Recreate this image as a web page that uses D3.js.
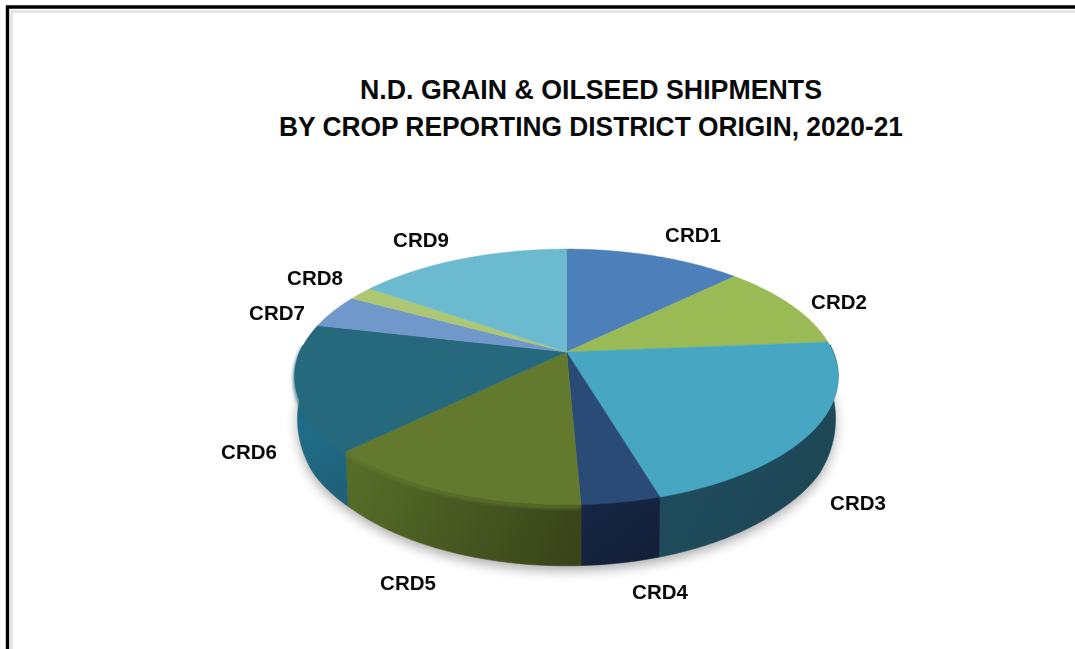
<!DOCTYPE html>
<html>
<head>
<meta charset="utf-8">
<script src="https://cdnjs.cloudflare.com/ajax/libs/d3/7.8.5/d3.min.js"></script>
<style>
html,body{margin:0;padding:0;background:#fff;overflow:hidden}
svg{display:block}
text{font-family:"Liberation Sans",Arial,sans-serif;font-weight:700;fill:#0a0a0a}
</style>
</head>
<body>
<svg id="c" width="1075" height="649"></svg>
<script>
const titleLines = ["N.D. GRAIN & OILSEED SHIPMENTS", "BY CROP REPORTING DISTRICT ORIGIN, 2020-21"];
const categories = ["CRD1","CRD2","CRD3","CRD4","CRD5","CRD6","CRD7","CRD8","CRD9"];
const shares = [12.7, 11.0, 21.7, 3.9, 13.4, 15.9, 4.3, 1.8, 15.3];

const topColors  = ["#4d7fbb","#9aba57","#47a7c3","#2b4c76","#637a2e","#27687c","#7098cb","#adc774","#6cbad0"];
const sideLight  = ["#3d6a9e","#7a9640","#1f4e5e","#182b4a","#58702a","#1f6c86","#5a7fae","#8aa55a","#4d98ae"];
const sideDark   = ["#2f5583","#66803a","#1e4453","#14203a","#394419","#1d5a70","#4a6c96","#75904a","#3e8196"];
const labelX = [693,839,858,660,408,249,277,315,421];
const labelY = [235,302,503,592,583,452,313,278,240];
const titleWidths = [462,624];
const titleBase = [99,136];

const svg = d3.select("#c");
const defs = svg.append("defs");
defs.append("filter").attr("id","shadow").attr("x","-20%").attr("y","-20%").attr("width","140%").attr("height","140%")
  .append("feGaussianBlur").attr("stdDeviation",6);
defs.append("filter").attr("id","soft").attr("x","-5%").attr("y","-5%").attr("width","110%").attr("height","110%")
  .append("feGaussianBlur").attr("stdDeviation",1.5);
defs.append("filter").attr("id","edge").attr("x","-2%").attr("y","-2%").attr("width","104%").attr("height","104%")
  .append("feGaussianBlur").attr("stdDeviation",0.6);

// frame
svg.append("path").attr("d","M11.5 649V11.5H1075").attr("fill","none").attr("stroke","#e2e2e2").attr("stroke-width",2.5);
svg.append("path").attr("d","M7.5 649V7H1075").attr("fill","none").attr("stroke","#000").attr("stroke-width",3.4);

// title
svg.selectAll("text.t").data(titleLines).join("text").attr("class","t")
  .attr("x",591).attr("y",(d,i)=>titleBase[i])
  .attr("text-anchor","middle").attr("font-size",27)
  .attr("textLength",(d,i)=>titleWidths[i]).attr("lengthAdjust","spacingAndGlyphs").text(d=>d);

// perspective projection of the disc onto the screen
const k = 0.195, cx = 567;
const sx = d3.scaleLinear().domain([-1,1]).range([cx-267,cx+266]);
const sy = d3.scaleLinear().domain([-1,1]).range([352+123,352-123]);
const wallDepth = d3.scaleLinear().domain([0,-0.2,-0.5,-0.72,-1]).range([36,42,53,55,61]).clamp(true);
const project = (a, r=1) => {
  const u = r*Math.sin(a), v = r*Math.cos(a), w = 1 + k*v;
  return [sx(u/w), sy(v/w)];
};
const base = a => {
  const p = project(a);
  return [cx + (p[0]-cx)*0.99, p[1] + wallDepth(Math.cos(a))];
};
const line = d3.line();
const arcs = d3.pie().sort(null).value(d=>d)(shares);
const sample = (a0,a1,step=0.01) => {
  const n = Math.max(2,Math.ceil((a1-a0)/step));
  return d3.range(n+1).map(i=>a0+(a1-a0)*i/n);
};
const frontStart = Math.PI/2 - 0.05, frontEnd = Math.PI*1.5 + 0.05;

// ground shadow
const outline = sample(frontStart,frontEnd).map(base).map(p=>[p[0],p[1]+5]);
svg.append("path").attr("d",line(outline)+"Z").attr("fill","#777").attr("opacity",0.6).attr("filter","url(#shadow)");

// side walls (front half only)
const sides = svg.append("g");
arcs.forEach((d,i)=>{
  const a0 = Math.max(d.startAngle,frontStart), a1 = Math.min(d.endAngle,frontEnd);
  if (a1<=a0) return;
  const as = sample(a0,a1);
  const topPts = as.map(a=>project(a));
  const botPts = as.map(base);
  const xs = topPts.map(p=>p[0]);
  const id = "sg"+i;
  const g = defs.append("linearGradient").attr("id",id).attr("gradientUnits","userSpaceOnUse")
    .attr("x1",d3.min(xs)).attr("x2",d3.max(xs)).attr("y1",440).attr("y2",540);
  g.append("stop").attr("offset",0).attr("stop-color",sideLight[i]);
  g.append("stop").attr("offset",1).attr("stop-color",sideDark[i]);
  const poly = topPts.map(p=>[p[0],p[1]-1]).concat(botPts.reverse());
  sides.append("path").attr("d",line(poly)+"Z").attr("fill",`url(#${id})`).attr("stroke",`url(#${id})`).attr("stroke-width",0.6);
});

// bevel highlight along the front rim
const bevel = svg.append("g").attr("filter","url(#soft)");
arcs.forEach((d,i)=>{
  if (i===2||i===3) return;
  const a0 = Math.max(d.startAngle,frontStart), a1 = Math.min(d.endAngle,frontEnd);
  if (a1<=a0) return;
  const pts = sample(a0,a1).map(a=>{const p=project(a);return [p[0],p[1]+2];});
  bevel.append("path").attr("d",line(pts)).attr("fill","none").attr("stroke",topColors[i]).attr("stroke-width",4).attr("opacity",0.7);
});

// top faces
const tops = svg.append("g").attr("filter","url(#edge)");
arcs.forEach((d,i)=>{
  const c = project(0,0);
  const pts = [c].concat(sample(d.startAngle,d.endAngle).map(a=>project(a)));
  tops.append("path").attr("d",line(pts)+"Z").attr("fill",topColors[i]).attr("stroke",topColors[i]).attr("stroke-width",0.5);
});

// labels
svg.selectAll("text.l").data(categories).join("text").attr("class","l")
  .attr("x",(d,i)=>labelX[i]).attr("y",(d,i)=>labelY[i]+7)
  .attr("text-anchor","middle").attr("font-size",20.5).text(d=>d);
</script>
</body>
</html>
